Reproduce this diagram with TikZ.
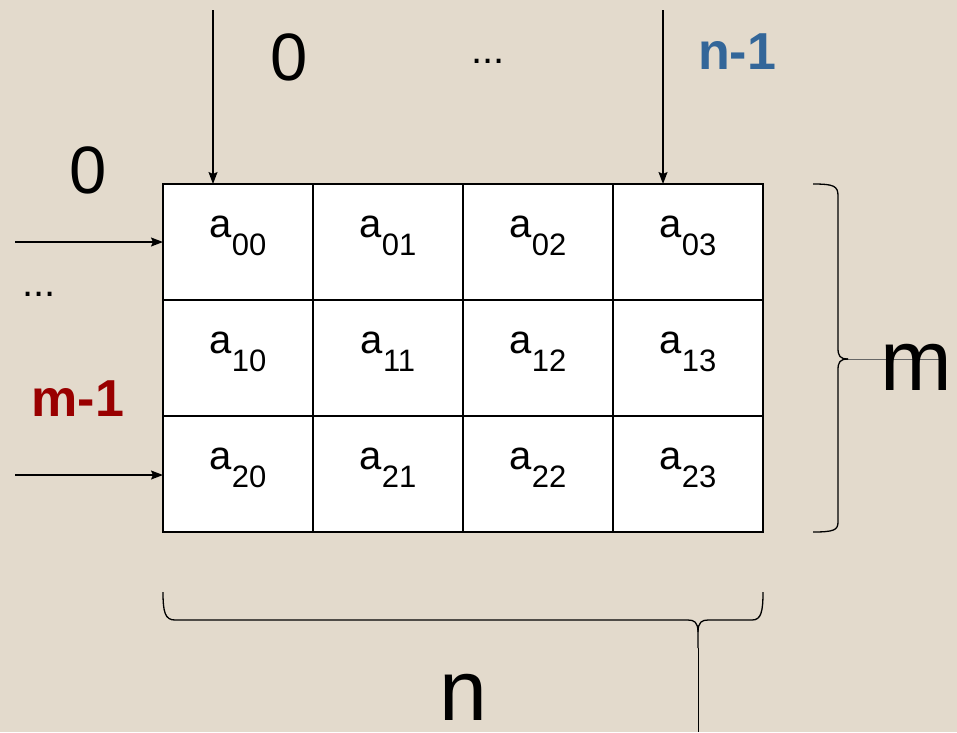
\documentclass[tikz,border=0pt]{standalone}
\usepackage{fontspec}
\setmainfont{Liberation Sans}
\usetikzlibrary{arrows.meta,calc}
\definecolor{bg}{HTML}{E3DACC}
\definecolor{nblue}{HTML}{336699}
\definecolor{mred}{HTML}{990000}
\newcommand{\fsz}[1]{\fontsize{#1}{#1}\selectfont}
\newcommand{\cellent}[1]{{\fsz{40}a}\raisebox{-18pt}{\fsz{31}#1}}
\begin{document}
\begin{tikzpicture}[x=1pt,y=-1pt,
 cell/.style={draw=black, fill=white, line width=1.5pt, minimum width=150pt, minimum height=116pt, inner sep=0pt, outer sep=0pt},
 celltxt/.style={anchor=base, inner sep=0pt},
 arr/.style={line width=1.4pt, -{Stealth[length=12pt,width=9pt,inset=2pt]}},
 bracestyle/.style={line width=1.3pt},
 thinline/.style={line width=0.8pt},
 lbl/.style={anchor=base, inner sep=0pt}]
\fill[bg] (0,0) rectangle (957,732);
\useasboundingbox (0,0) rectangle (957,732);
\foreach \row in {0,1,2}{
 \foreach \col in {0,1,2,3}{
  \node[cell] (c\row\col) at ({238+150*\col},{242+116*\row}) {};
  \node[celltxt] (t\row\col) at ($(c\row\col.north)+(0,53)$) {\cellent{\row\col}};
 }}
% arrows
\coordinate (s0) at (213,10);
\coordinate (s1) at (663,10);
\coordinate (h0) at (15,242);
\coordinate (h2) at (15,475);
\draw[arr] (s0) -- (s0 |- c00.north);
\draw[arr] (s1) -- (s1 |- c03.north);
\draw[arr] (h0) -- (h0 -| c00.west);
\draw[arr] (h2) -- (h2 -| c20.west);
% right brace
\draw[thinline, black!60] (846,359) -- (945,359);
\draw[bracestyle] (813,184) .. controls (834,184) and (838,186) .. (838,196) -- (838,348) .. controls (838,356) and (840,359) .. (848,359);
\draw[bracestyle] (848,359) .. controls (840,359) and (838,362) .. (838,370) -- (838,522) .. controls (838,530) and (834,532) .. (813,532);
% bottom brace
\draw[bracestyle] (163,592) .. controls (163,612) and (165,620) .. (175,620) -- (688,620) .. controls (694,620) and (698,622) .. (698,632) -- (698,648);
\draw[bracestyle] (698,632) .. controls (698,622) and (702,620) .. (708,620) -- (752,620) .. controls (761,620) and (763,612) .. (763,592);
\draw[thinline] (698,648) -- (698,732);
% labels
\node[lbl, font={\fsz{67}}] (top0) at (289,80) {0};
\node[lbl, font={\fsz{40}}] (topdots) at (488,63) {...};
\node[lbl, font={\fsz{52}\bfseries}, text=nblue] (topn) at (737,69) {n-1};
\node[lbl, font={\fsz{67}}] (left0) at (88,193) {0};
\node[lbl, font={\fsz{40}}] (leftdots) at (39,296) {...};
\node[lbl, font={\fsz{52}\bfseries}, text=mred] (leftm) at (78,416) {m-1};
\node[lbl, font={\fsz{86}}] (mlbl) at (916,390) {m};
\node[lbl, font={\fsz{86}}] (nlbl) at (463,720) {n};
\end{tikzpicture}
\end{document}
